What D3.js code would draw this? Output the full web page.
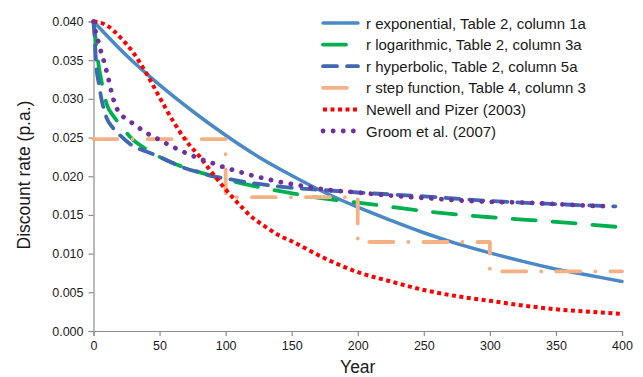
<!DOCTYPE html>
<html>
<head>
<meta charset="utf-8">
<script src="https://cdn.jsdelivr.net/npm/d3@7"></script>
<style>
  body { margin: 0; background: #fff; }
  svg { font-family: "Liberation Sans", Arial, sans-serif; }
</style>
</head>
<body>
<div id="chart"></div>
<script>
// values
var expYears = [0, 25, 50, 75, 100, 125, 150, 175, 200, 225, 250, 275, 300, 325, 350, 375, 400];
var expRate  = [0.0400, 0.0356, 0.0318, 0.0284, 0.0253, 0.0225, 0.0201, 0.0179, 0.0160, 0.0143, 0.0127, 0.0113, 0.0101, 0.0090, 0.0080, 0.0072, 0.0064];

var logYears = [0, 1, 2, 4, 7, 10, 15, 20, 30, 40, 50, 60, 75, 100, 125, 150, 175, 200, 250, 300, 350, 400];
var logRate  = [0.0400, 0.0387, 0.0370, 0.0342, 0.0315, 0.0293, 0.0278, 0.0267, 0.0247, 0.0235, 0.0225, 0.0217, 0.0208, 0.0196, 0.0186, 0.0178, 0.0171, 0.0166, 0.0155, 0.0147, 0.0141, 0.0134];

var hypYears = [0, 1, 2, 4, 6, 10, 15, 20, 30, 40, 50, 60, 70, 80, 90, 100, 125, 150, 175, 200, 250, 300, 350, 395];
var hypRate  = [0.0400, 0.0375, 0.0345, 0.0320, 0.0300, 0.0275, 0.0262, 0.0253, 0.0239, 0.0232, 0.0225, 0.0217, 0.0210, 0.0205, 0.0200, 0.0197, 0.0190, 0.0185, 0.0182, 0.0179, 0.0174, 0.0168, 0.0164, 0.0161];

var stepYears = [0, 100, 200, 300, 400];
var stepRate  = [0.0248, 0.0173, 0.0115, 0.0077, 0.0077];

var npYears = [0, 10, 20, 30, 40, 50, 60, 70, 80, 90, 100, 110, 120, 130, 140, 150, 175, 200, 225, 250, 275, 300, 325, 350, 375, 400];
var npRate  = [0.0400, 0.0395, 0.0380, 0.0360, 0.0333, 0.0302, 0.0272, 0.0246, 0.0226, 0.0204, 0.0183, 0.0164, 0.0147, 0.0135, 0.0124, 0.0116, 0.0094, 0.0076, 0.0064, 0.0053, 0.0045, 0.0039, 0.0033, 0.0028, 0.0025, 0.0022];

var groomYears = [0, 2, 4, 6, 8, 10, 12, 14, 17, 20, 25, 30, 40, 50, 60, 70, 80, 90, 100, 110, 120, 130, 140, 150, 160, 175, 200, 225, 250, 275, 300, 325, 350, 375, 392];
var groomRate  = [0.0400, 0.0384, 0.0372, 0.0359, 0.0348, 0.0335, 0.0321, 0.0306, 0.0290, 0.0281, 0.0274, 0.0268, 0.0256, 0.0247, 0.0238, 0.0230, 0.0223, 0.0217, 0.0211, 0.0206, 0.0201, 0.0197, 0.0193, 0.0190, 0.0187, 0.0183, 0.0179, 0.0175, 0.0172, 0.0169, 0.0167, 0.0166, 0.0164, 0.0162, 0.0161];

var seriesNames = [
  "r exponential, Table 2, column 1a",
  "r logarithmic, Table 2, column 3a",
  "r hyperbolic, Table 2, column 5a",
  "r step function, Table 4, column 3",
  "Newell and Pizer (2003)",
  "Groom et al. (2007)"
];
var xTicks = [0, 50, 100, 150, 200, 250, 300, 350, 400];
var yTicks = [0, 0.005, 0.010, 0.015, 0.020, 0.025, 0.030, 0.035, 0.040];

var width = 643, height = 377;
var plotLeft = 93.5, plotRight = 622, plotTop = 21.5, plotBottom = 331;

var svg = d3.select("#chart")
  .append("svg")
  .attr("width", width)
  .attr("height", height);

var x = d3.scaleLinear().domain([0, 400]).range([plotLeft, plotRight]);
var y = d3.scaleLinear().domain([0, 0.04]).range([plotBottom, plotTop]);

function pairs(xs, ys) {
  return xs.map(function (d, i) { return [d, ys[i]]; });
}

var series = [
  { data: pairs(expYears, expRate), color: "#4a89c6", width: 3.5, dash: null, cap: "round", curve: d3.curveMonotoneX },
  { data: pairs(logYears, logRate), color: "#00b050", width: 3.8, dash: "23,17", cap: "round", curve: d3.curveMonotoneX },
  { data: pairs(hypYears, hypRate), color: "#3f68b2", width: 3.8, dash: "14,10", cap: "round", curve: d3.curveMonotoneX },
  { data: pairs(stepYears, stepRate), color: "#f5b183", width: 3.8, dash: "24,15,0.1,15", cap: "round", curve: d3.curveStepAfter },
  { data: pairs(npYears, npRate), color: "#ff0000", width: 4, dash: "4,3.5", cap: "butt", curve: d3.curveMonotoneX },
  { data: pairs(groomYears, groomRate), color: "#7030a0", width: 4.8, dash: "0.1,10", cap: "round", curve: d3.curveMonotoneX }
];

// axes
var axisColor = "#8c8c8c";
var xAxis = svg.append("g")
  .attr("transform", "translate(0," + plotBottom + ")")
  .call(d3.axisBottom(x).tickValues(xTicks).tickSize(5).tickPadding(5));
var yAxis = svg.append("g")
  .attr("transform", "translate(" + plotLeft + ",0)")
  .call(d3.axisLeft(y).tickValues(yTicks).tickSize(5).tickPadding(5).tickFormat(d3.format(".3f")));

[xAxis, yAxis].forEach(function (a) {
  a.selectAll("path").attr("stroke", axisColor).attr("stroke-width", 1.2);
  a.selectAll("line").attr("stroke", axisColor).attr("stroke-width", 1.2);
  a.selectAll("text").attr("fill", "#1a1a1a").style("font-size", "12.5px")
    .style("font-family", "Liberation Sans, Arial, sans-serif");
});

// lines
series.forEach(function (s) {
  var line = d3.line()
    .x(function (d) { return x(d[0]); })
    .y(function (d) { return y(d[1]); })
    .curve(s.curve);
  svg.append("path")
    .datum(s.data)
    .attr("d", line)
    .attr("fill", "none")
    .attr("stroke", s.color)
    .attr("stroke-width", s.width)
    .attr("stroke-linecap", s.cap)
    .attr("stroke-linejoin", "round")
    .attr("stroke-dasharray", s.dash);
});

// axis titles
svg.append("text")
  .attr("x", (plotLeft + plotRight) / 2)
  .attr("y", 373)
  .attr("text-anchor", "middle")
  .style("font-size", "17.5px")
  .attr("fill", "#1a1a1a")
  .text("Year");

svg.append("text")
  .attr("transform", "translate(30,175) rotate(-90)")
  .attr("text-anchor", "middle")
  .style("font-size", "17.5px")
  .attr("fill", "#1a1a1a")
  .text("Discount rate (p.a.)");

// legend
var legend = svg.append("g");
series.forEach(function (s, i) {
  var yy = 23 + i * 21.6;
  legend.append("line")
    .attr("x1", 323).attr("x2", 358)
    .attr("y1", yy).attr("y2", yy)
    .attr("stroke", s.color)
    .attr("stroke-width", s.width)
    .attr("stroke-linecap", s.cap)
    .attr("stroke-dasharray", s.dash);
  legend.append("text")
    .attr("x", 366)
    .attr("y", yy + 5.5)
    .style("font-size", "15px")
    .attr("fill", "#1a1a1a")
    .text(seriesNames[i]);
});
</script>
</body>
</html>
